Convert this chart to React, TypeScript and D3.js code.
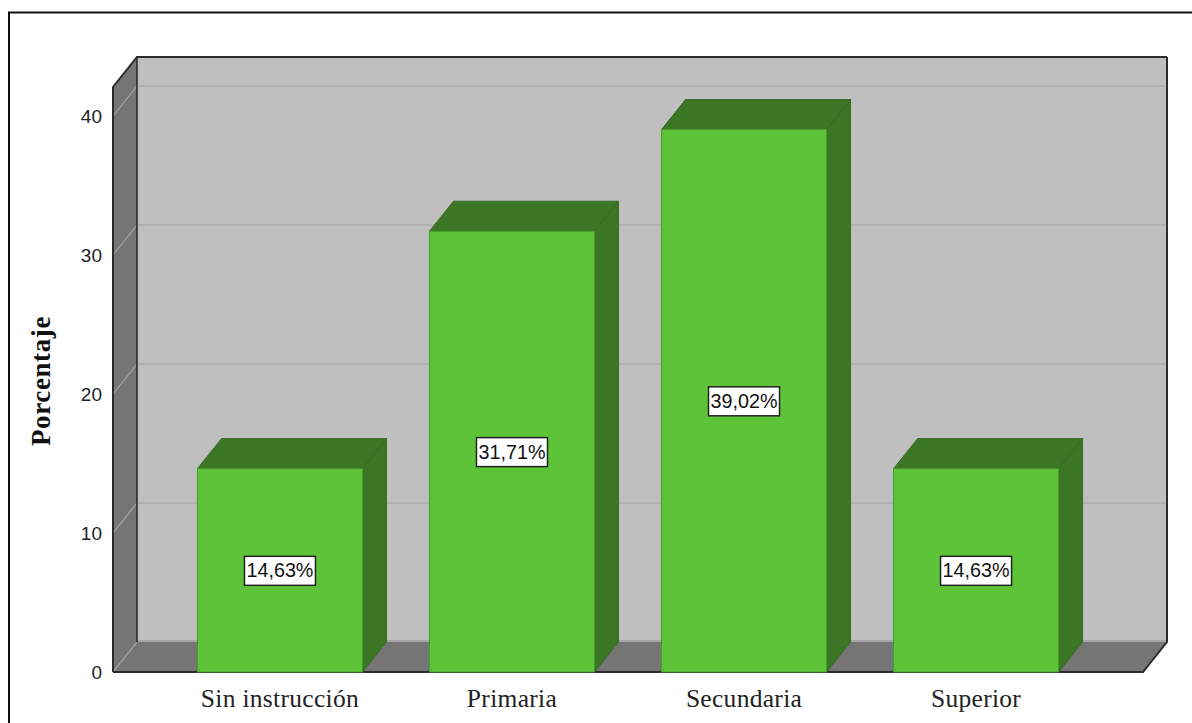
import React from "react";
import * as d3 from "d3";

const categories = ["Sin instrucción", "Primaria", "Secundaria", "Superior"];
const percentages = [14.63, 31.71, 39.02, 14.63];
const percentLabels = ["14,63%", "31,71%", "39,02%", "14,63%"];
const yTicks = [0, 10, 20, 30, 40];
const yTitle = "Porcentaje";

const W = 1192;
const H = 723;
const plotLeft = 113;
const plotRight = 1143;
const baseY = 672;
const topOfDomainY = 116;
const wallTopY = 87;
const depthX = 24;
const depthY = 30;

const WALL = "#bfbfbf";
const SIDE = "#757575";
const EDGE = "#2b2b2b";
const GREEN = "#5dc437";
const GREEN_DARK = "#3b7624";
const GREEN_EDGE = "#4a9a2c";

const pts = (p: [number, number][]) => p.map((d) => d.join(",")).join(" ");

export default function App() {
  const y = d3.scaleLinear().domain([0, 40]).range([baseY, topOfDomainY]);
  const x = d3
    .scaleBand<string>()
    .domain(categories)
    .range([plotLeft, plotRight])
    .paddingInner(0.289)
    .paddingOuter(0.364);
  const bw = x.bandwidth();

  return (
    <svg
      width={W}
      height={H}
      viewBox={`0 0 ${W} ${H}`}
      style={{ position: "absolute", left: 0, top: 0, display: "block", background: "#fff" }}
    >
      {/* outer frame: only top and left edges fall inside the canvas */}
      <path d={`M9,${H} V12.5 H${W}`} fill="none" stroke="#111" strokeWidth={2} />

      {/* back wall, left wall and floor */}
      <rect
        x={plotLeft + depthX}
        y={wallTopY - depthY}
        width={plotRight - plotLeft}
        height={baseY - wallTopY}
        fill={WALL}
      />
      <polygon
        points={pts([
          [plotLeft, wallTopY],
          [plotLeft + depthX, wallTopY - depthY],
          [plotLeft + depthX, baseY - depthY],
          [plotLeft, baseY],
        ])}
        fill={SIDE}
      />
      <polygon
        points={pts([
          [plotLeft, baseY],
          [plotLeft + depthX, baseY - depthY],
          [plotRight + depthX, baseY - depthY],
          [plotRight, baseY],
        ])}
        fill={SIDE}
      />
      <line
        x1={plotLeft + depthX}
        x2={plotRight + depthX}
        y1={baseY - depthY - 1}
        y2={baseY - depthY - 1}
        stroke="#a6a6a6"
        strokeWidth={2}
      />

      {/* gridlines across both walls */}
      {yTicks.map((t) => (
        <g key={t}>
          <line
            x1={plotLeft}
            y1={y(t)}
            x2={plotLeft + depthX}
            y2={y(t) - depthY}
            stroke="#a8a8a8"
            strokeWidth={1.2}
          />
          {t > 0 && (
            <line
              x1={plotLeft + depthX}
              x2={plotRight + depthX}
              y1={y(t) - depthY}
              y2={y(t) - depthY}
              stroke="#b1b1b1"
              strokeWidth={2}
            />
          )}
        </g>
      ))}

      {/* wall outlines */}
      <path
        d={`M${plotLeft},${baseY} V${wallTopY} L${plotLeft + depthX},${wallTopY - depthY} H${plotRight + depthX}`}
        fill="none"
        stroke={EDGE}
        strokeWidth={2}
      />
      <path
        d={`M${plotLeft + depthX},${wallTopY - depthY} V${baseY - depthY}`}
        fill="none"
        stroke={EDGE}
        strokeWidth={1.6}
      />
      <path
        d={`M${plotRight + depthX},${wallTopY - depthY} V${baseY - depthY} L${plotRight},${baseY} H${plotLeft}`}
        fill="none"
        stroke={EDGE}
        strokeWidth={2}
      />

      {/* 3D bars */}
      {categories.map((c, i) => {
        const x0 = x(c) as number;
        const x1 = x0 + bw;
        const top = y(percentages[i]);
        return (
          <g key={c}>
            <polygon
              points={pts([
                [x1, top],
                [x1 + depthX, top - depthY],
                [x1 + depthX, baseY - depthY],
                [x1, baseY],
              ])}
              fill={GREEN_DARK}
              stroke="#35691f"
              strokeWidth={1}
            />
            <polygon
              points={pts([
                [x0, top],
                [x0 + depthX, top - depthY],
                [x1 + depthX, top - depthY],
                [x1, top],
              ])}
              fill={GREEN_DARK}
              stroke="#35691f"
              strokeWidth={1}
            />
            <rect x={x0} y={top} width={bw} height={baseY - top} fill={GREEN} stroke={GREEN_EDGE} strokeWidth={1} />
          </g>
        );
      })}

      {/* value labels centred on each bar's front face */}
      {categories.map((c, i) => {
        const cx = (x(c) as number) + bw / 2;
        const cy = (y(percentages[i]) + baseY) / 2;
        return (
          <g key={c}>
            <rect x={cx - 35.5} y={cy - 14} width={71} height={29} fill="#fff" stroke="#222" strokeWidth={1.5} />
            <text
              x={cx}
              y={cy + 7}
              textAnchor="middle"
              fontFamily="'Liberation Sans', Arial, sans-serif"
              fontSize={20}
              fill="#111"
              textLength={67}
              lengthAdjust="spacingAndGlyphs"
            >
              {percentLabels[i]}
            </text>
          </g>
        );
      })}

      {/* y tick labels */}
      {yTicks.map((t) => (
        <text
          key={t}
          x={102}
          y={y(t) + 7}
          textAnchor="end"
          fontFamily="'Liberation Sans', Arial, sans-serif"
          fontSize={19}
          fill="#222"
        >
          {t}
        </text>
      ))}

      {/* category labels */}
      {categories.map((c) => (
        <text
          key={c}
          x={(x(c) as number) + bw / 2}
          y={707}
          textAnchor="middle"
          fontFamily="'Liberation Serif', 'Times New Roman', serif"
          fontSize={25.5}
          letterSpacing={0.3}
          fill="#222"
        >
          {c}
        </text>
      ))}

      {/* y axis title */}
      <text
        transform="translate(50,381) rotate(-90)"
        textAnchor="middle"
        fontFamily="'Liberation Serif', 'Times New Roman', serif"
        fontWeight="bold"
        fontSize={27}
        letterSpacing={0.6}
        fill="#111"
      >
        {yTitle}
      </text>
    </svg>
  );
}
